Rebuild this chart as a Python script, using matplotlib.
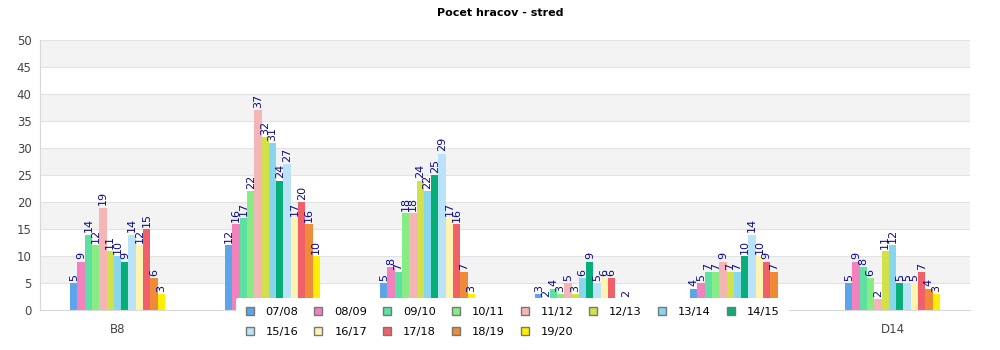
import numpy as np
import matplotlib.pyplot as plt
from matplotlib.patches import Patch

# groups on the x axis (only the outer two labels are visible in the source)
categories = ["B8", "", "", "", "", "D14"]
seasons = ["07/08", "08/09", "09/10", "10/11", "11/12", "12/13", "13/14",
           "14/15", "15/16", "16/17", "17/18", "18/19", "19/20"]

# one list per season, values for the six groups
s0708 = [5, 12, 5, 3, 4, 5]
s0809 = [9, 16, 8, 2, 5, 9]
s0910 = [14, 17, 7, 4, 7, 8]
s1011 = [12, 22, 18, 3, 7, 6]
s1112 = [19, 37, 18, 5, 9, 2]
s1213 = [11, 32, 24, 3, 7, 11]
s1314 = [10, 31, 22, 6, 7, 12]
s1415 = [9, 24, 25, 9, 10, 5]
s1516 = [14, 27, 29, 5, 14, 5]
s1617 = [12, 17, 17, 6, 10, 5]
s1718 = [15, 20, 16, 6, 9, 7]
s1819 = [6, 16, 7, 1, 7, 4]
s1920 = [3, 10, 3, 2, 1, 3]
series = [s0708, s0809, s0910, s1011, s1112, s1213, s1314,
          s1415, s1516, s1617, s1718, s1819, s1920]

colors = ["#5DA5EA", "#F282BE", "#5EE0A2", "#88EC84", "#F5B5B5", "#D2E04A",
          "#88D6EE", "#08AE78", "#BAE2F8", "#FFF3B2", "#F06068", "#EE8A38",
          "#FFEE00"]

fig = plt.figure(figsize=(10, 3.5), dpi=100)
ax = fig.add_axes([0.04, 0.114, 0.93, 0.771])

# alternating bands
for lo in range(5, 50, 10):
    ax.axhspan(lo, lo + 5, color="#F3F3F3", zorder=0, lw=0)
for y in range(5, 51, 5):
    ax.axhline(y, color="#E2E2E2", lw=0.8, zorder=0.5)

x = np.arange(len(categories))
bw = 0.047
n = len(series)
for i, vals in enumerate(series):
    pos = x + (i - (n - 1) / 2) * bw
    ax.bar(pos, vals, width=bw, color=colors[i], zorder=2, lw=0)
    for px, v in zip(pos, vals):
        ax.text(px, v + 0.4, str(v), rotation=90, ha="center", va="bottom",
                fontsize=8, color="#0A0A8A", zorder=3)

ax.set_xlim(-0.5, len(categories) - 0.5)
ax.set_ylim(0, 50)
ax.set_yticks(range(0, 51, 5))
ax.set_xticks(x)
ax.set_xticklabels(categories)
ax.tick_params(axis="both", length=0, labelsize=8.5, colors="#444444", pad=6)
ax.tick_params(axis="x", pad=9)
for s in ["top", "right"]:
    ax.spines[s].set_visible(False)
for s in ["left", "bottom"]:
    ax.spines[s].set_color("#D8D8D8")

fig.text(0.5, 0.963, "Pocet hracov - stred", ha="center", va="center",
         fontsize=8, fontweight="bold")

# legend is filled column by column; reorder so rows read left to right
handles = [Patch(facecolor=c, edgecolor="#777777", lw=1) for c in colors]
order = []
for c in range(8):
    order.append(c)
    if c + 8 < n:
        order.append(c + 8)
leg = fig.legend([handles[k] for k in order], [seasons[k] for k in order],
                 loc="upper left", bbox_to_anchor=(0.236, 0.15),
                 ncol=8, frameon=True, fontsize=8.2, handlelength=0.7,
                 handleheight=0.7, columnspacing=1.4, handletextpad=1.05,
                 labelspacing=0.85, borderpad=0.85, borderaxespad=0)
leg.get_frame().set_facecolor("white")
leg.get_frame().set_edgecolor("none")
leg.get_frame().set_alpha(1)
leg.set_zorder(10)

fig.savefig("out.png", dpi=100)
